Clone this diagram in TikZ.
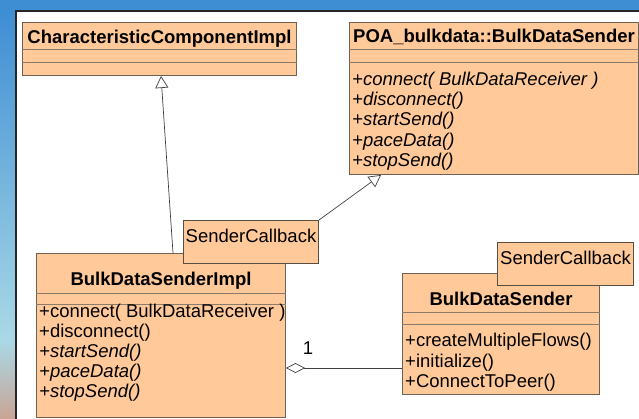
\documentclass[tikz,border=0pt]{standalone}
\usepackage{fontspec}
\setmainfont{Liberation Sans}
\usetikzlibrary{calc, arrows.meta, positioning}

\definecolor{clsfill}{HTML}{FFC999}
\definecolor{clsline}{HTML}{6E6152}
\definecolor{sepline}{HTML}{8C7B6A}
\definecolor{bgblue}{HTML}{3E8ED3}
\definecolor{bglight}{HTML}{A9D9E6}
\definecolor{bgsand}{HTML}{C9A596}

\begin{document}
\begin{tikzpicture}[x=1pt, y=-1pt, >=latex]
	\tikzstyle{cls} = [draw=clsline, fill=clsfill, line width=1pt, anchor=north west, inner sep=0pt]
	\tikzstyle{sep} = [draw=sepline, line width=1pt]
	\tikzstyle{title} = [anchor=base, inner sep=0pt, font=\fontsize{18.5}{22}\selectfont\bfseries]
	% operation lists sit on the baseline of their last line
	\tikzstyle{ops} = [anchor=base west, inner sep=0pt, align=left, font=\fontsize{18.5}{20.3}\selectfont]
	\tikzstyle{tmpl} = [draw=clsline!80!black, fill=clsfill, line width=1pt, anchor=north west,
		inner xsep=2pt, inner ysep=4pt, text height=17.5pt, text depth=17.5pt, font=\fontsize{18.5}{22}\selectfont]
	\tikzstyle{gen} = [draw=black!75, line width=0.7pt, -{Triangle[open, length=12pt, width=13pt, fill=white]}]
	\tikzstyle{aggr} = [draw=black!75, line width=0.7pt, {Diamond[open, length=19pt, width=10pt, fill=white]}-]

	\useasboundingbox (0,0) rectangle (639,418);
	% desktop behind the window
	\fill[bgblue] (0,0) rectangle (639,418);
	\shade[top color=bgblue, bottom color=bglight] (0,11) rectangle (16,340);
	\shade[top color=bglight, bottom color=bgsand] (0,340) rectangle (16,418);
	\draw[fill=white, draw=black!85, line width=1.5pt] (16,11) rectangle (660,440);

	% base classes
	\node[cls, minimum width=274pt, minimum height=53pt] (cci) at (22,22) {};
	\draw[sep] (cci.west |- 0,49) -- (cci.east |- 0,49);
	\draw[sep] (cci.west |- 0,62) -- (cci.east |- 0,62);
	\node[title] (cci-name) at (cci.north |- 0,43.3) {CharacteristicComponentImpl};

	\node[cls, minimum width=289pt, minimum height=152pt] (poa) at (349,22) {};
	\draw[sep] (poa.west |- 0,49) -- (poa.east |- 0,49);
	\draw[sep] (poa.west |- 0,62) -- (poa.east |- 0,62);
	\node[title] (poa-name) at (poa.north |- 0,42.7) {POA\_bulkdata::BulkDataSender};
	\node[ops, font=\fontsize{18.5}{20.3}\selectfont\itshape] (poa-ops) at (352,166.3)
		{+connect( BulkDataReceiver )\\+disconnect()\\+startSend()\\+paceData()\\+stopSend()};

	% implementation
	\node[cls, minimum width=249pt, minimum height=164pt] (bdsi) at (36,253) {};
	\draw[sep] (bdsi.west |- 0,293) -- (bdsi.east |- 0,293);
	\draw[sep] (bdsi.west |- 0,304) -- (bdsi.east |- 0,304);
	\node[title] (bdsi-name) at (bdsi.north |- 0,285) {BulkDataSenderImpl};
	\node[ops, font=\fontsize{18.5}{20}\selectfont] (bdsi-ops) at (39,397)
		{+connect( BulkDataReceiver )\\+disconnect()\\\textit{+startSend()}\\\textit{+paceData()}\\\textit{+stopSend()}};
	\node[tmpl, minimum width=135pt] (sci) at (183,220) {SenderCallback};

	% sender
	\node[cls, minimum width=197pt, minimum height=121pt] (bds) at (402,273) {};
	\draw[sep] (bds.west |- 0,312) -- (bds.east |- 0,312);
	\draw[sep] (bds.west |- 0,324) -- (bds.east |- 0,324);
	\node[title] (bds-name) at (bds.north |- 0,305) {BulkDataSender};
	\node[ops, font=\fontsize{18.5}{20.5}\selectfont] (bds-ops) at (405,387.5)
		{+createMultipleFlows()\\+initialize()\\+ConnectToPeer()};
	\node[tmpl, minimum width=136pt] (scr) at (497,242) {SenderCallback};

	% relations
	\draw[gen] ($(bdsi.north west)+(137,0)$) -- ($(cci.south west)+(139,0)$);
	\draw[gen] (sci.north east) -- ($(poa.south west)+(32,0)$);
	\coordinate (agg) at ($(bdsi.south east)+(0,-50)$);
	\draw[aggr] (agg) -- (agg -| bds.west);
	\node[inner sep=0pt, font=\fontsize{18.5}{22}\selectfont] (mult) at ($(agg)+(22,-20)$) {1};
\end{tikzpicture}
\end{document}
